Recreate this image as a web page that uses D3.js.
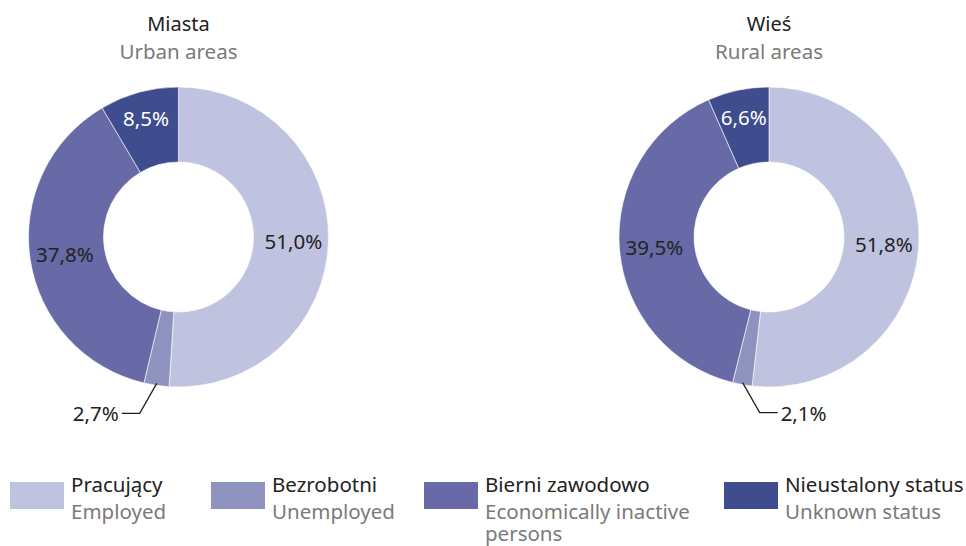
<!DOCTYPE html>
<html><head><meta charset="utf-8">
<script src="https://cdn.jsdelivr.net/npm/d3@7"></script>
<style>body{margin:0;background:#fff}svg{display:block}text{font-family:"Noto Sans",sans-serif}</style>
</head><body><svg id="c" width="966" height="546"></svg>
<script>
const categoriesPL = ["Pracujący","Bezrobotni","Bierni zawodowo","Nieustalony status"];
const categoriesEN = [["Employed"],["Unemployed"],["Economically inactive","persons"],["Unknown status"]];
const colors = ["#c0c3df","#8e92bf","#676aa6","#3f4d8f"];
const titlesPL = ["Miasta","Wieś"];
const titlesEN = ["Urban areas","Rural areas"];
const urbanValues = [51.0, 2.7, 37.8, 8.5];
const ruralValues = [51.8, 2.1, 39.5, 6.6];
const seriesValues = [urbanValues, ruralValues];

const svg = d3.select("#c");
const fmt = v => d3.format(".1f")(v).replace(".", ",") + "%";
const cx = d3.scaleOrdinal().domain([0,1]).range([178.5, 769]);
const cy = 237, R = 150, r = 75;
const pie = d3.pie().sort(null).value(d => d);
const arc = d3.arc().innerRadius(r).outerRadius(R);

seriesValues.forEach((vals, i) => {
  const g = svg.append("g").attr("transform", `translate(${cx(i)},${cy})`);
  svg.append("text").attr("x", cx(i)).attr("y", 31).attr("text-anchor","middle")
    .attr("font-size", 20).attr("fill", "#222").text(titlesPL[i]);
  svg.append("text").attr("x", cx(i)).attr("y", 59).attr("text-anchor","middle")
    .attr("font-size", 20.5).attr("fill", "#7a7a7a").text(titlesEN[i]);
  const arcs = pie(vals);
  g.selectAll("path").data(arcs).join("path")
    .attr("d", arc).attr("fill", (d, j) => colors[j])
    .attr("stroke", "#fff").attr("stroke-width", 0.6);
  arcs.forEach((a, j) => {
    const mid = (a.startAngle + a.endAngle) / 2;
    const share = a.value;
    if (share < 5) {
      const p0 = [ (R - 2) * Math.sin(mid), -(R - 2) * Math.cos(mid) ];
      const side = i === 0 ? -1 : 1;
      const elbowX = p0[0] + side * 17, elbowY = p0[1] + 30;
      const endX = elbowX + side * 18;
      g.append("path")
        .attr("d", `M${p0[0]},${p0[1]}L${elbowX},${elbowY}L${endX},${elbowY}`)
        .attr("fill","none").attr("stroke","#222").attr("stroke-width",1.3);
      g.append("text").attr("x", endX + side * 3).attr("y", elbowY + 8)
        .attr("text-anchor", side < 0 ? "end" : "start")
        .attr("font-size", 20.5).attr("fill", "#222").text(fmt(share));
    } else {
      const lr = share < 10 ? 123 : 115;
      g.append("text").attr("x", lr * Math.sin(mid)).attr("y", -lr * Math.cos(mid) + 8)
        .attr("text-anchor", "middle").attr("font-size", 20.5)
        .attr("fill", j === 3 ? "#fff" : "#222").text(fmt(share));
    }
  });
});

const legX = d3.scaleOrdinal().domain([0,1,2,3]).range([10, 211, 424, 724]);
categoriesPL.forEach((c, j) => {
  svg.append("rect").attr("x", legX(j)).attr("y", 482).attr("width", 54).attr("height", 27).attr("fill", colors[j]);
  svg.append("text").attr("x", legX(j) + 61).attr("y", 492).attr("font-size", 20.5).attr("fill", "#222").text(c);
  categoriesEN[j].forEach((t, k) => {
    svg.append("text").attr("x", legX(j) + 61).attr("y", 519 + k * 22).attr("font-size", 20.5).attr("fill", "#7a7a7a").text(t);
  });
});
</script></body></html>
